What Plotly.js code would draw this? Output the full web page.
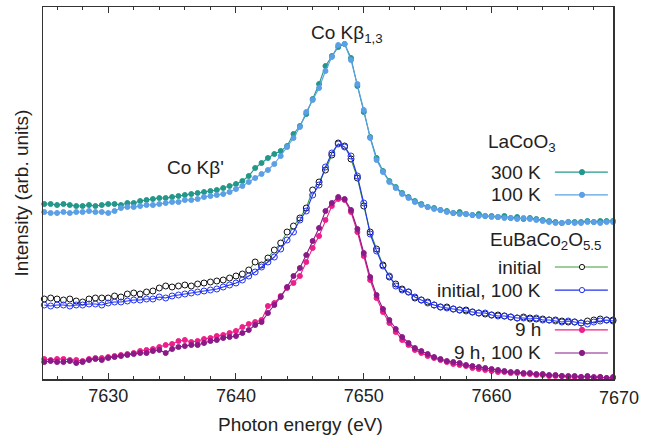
<!DOCTYPE html>
<html><head><meta charset="utf-8">
<script src="https://cdn.plot.ly/plotly-3.0.1.min.js"></script>
<style>body{margin:0;background:#fff}#chart{width:651px;height:437px}</style>
</head><body><div id="chart"></div>
<script>
const energy = [7625.0,7625.5,7626.0,7626.5,7627.0,7627.5,7628.0,7628.5,7629.0,7629.5,
 7630.0,7630.5,7631.0,7631.5,7632.0,7632.5,7633.0,7633.5,7634.0,7634.5,
 7635.0,7635.5,7636.0,7636.5,7637.0,7637.5,7638.0,7638.5,7639.0,7639.5,
 7640.0,7640.5,7641.0,7641.5,7642.0,7642.5,7643.0,7643.5,7644.0,7644.5,
 7645.0,7645.5,7646.0,7646.5,7647.0,7647.5,7648.0,7648.5,7649.0,7649.5,
 7650.0,7650.5,7651.0,7651.5,7652.0,7652.5,7653.0,7653.5,7654.0,7654.5,
 7655.0,7655.5,7656.0,7656.5,7657.0,7657.5,7658.0,7658.5,7659.0,7659.5,
 7660.0,7660.5,7661.0,7661.5,7662.0,7662.5,7663.0,7663.5,7664.0,7664.5,
 7665.0,7665.5,7666.0,7666.5,7667.0,7667.5,7668.0,7668.5,7669.0,7669.5];

// LaCoO3
const la300K = [176,176,175,176,175,174,174,175,174,175,
 176,176,175,177,177,179,180,181,182,182,
 183,184,185,186,187,188,189,190,192,194,
 196,199,204,212,217,222,226,229,234,246,
 254,266,281,296,314,324,333,336,322,294,
 268,243,222,209,199,193,187,183,179,176,
 173,172,170,169,167,168,166,165,166,164,
 164,163,164,162,163,161,162,161,160,159,
 158,157,158,158,158,159,158,159,159,159];
const la100K = [168,167,167,168,167,168,168,169,168,168,
 167,169,172,173,173,174,175,175,176,177,
 178,178,180,180,181,183,184,185,186,188,
 191,194,198,202,206,210,216,224,233,242,
 253,268,280,292,309,323,335,336,320,296,
 270,242,220,208,198,192,186,182,178,175,
 173,171,170,168,167,166,166,165,164,164,
 163,163,162,162,161,162,161,160,159,158,
 157,157,158,157,157,158,158,157,158,158];
// EuBaCo2O5.5
const euInitial = [81,82,81,80,81,79,78,81,82,82,
 82,84,83,86,87,86,88,89,92,94,
 93,94,95,94,96,97,98,99,100,102,
 104,106,110,118,115,122,130,137,148,154,
 162,172,190,198,210,225,237,234,221,202,
 174,148,131,115,103,96,91,88,82,80,
 78,75,73,73,71,70,70,68,67,66,
 65,65,64,63,62,63,62,61,61,60,
 60,59,58,58,57,59,60,61,60,60];
const euInitial100K = [75,74,75,75,74,75,75,76,76,75,
 77,78,78,79,80,80,81,81,83,82,
 84,85,86,87,88,89,90,91,93,95,
 97,100,104,108,113,118,123,131,140,148,
 160,169,185,195,213,227,236,233,224,204,
 177,146,129,114,104,94,90,88,83,80,
 77,75,73,72,71,70,69,68,67,67,
 65,64,64,63,62,62,61,62,60,60,
 59,58,59,58,57,56,58,59,60,59];
const eu9h = [21,20,21,21,20,20,19,21,22,22,
 23,24,25,26,27,29,30,31,33,35,
 36,39,40,38,39,41,42,44,45,47,
 49,53,56,58,60,74,77,84,92,97,
 104,118,132,144,160,174,181,180,168,148,
 124,100,82,68,57,48,40,35,30,27,
 24,22,20,18,16,15,14,12,11,10,
 9,8,8,7,7,6,6,5,5,4,
 4,4,3,3,3,3,2,3,2,2];
const eu9h100K = [18,19,18,18,19,17,18,20,21,20,
 22,23,24,25,26,27,27,29,30,27,
 31,33,34,35,35,37,39,40,42,43,
 44,47,50,55,58,67,75,83,93,104,
 112,125,139,152,169,177,183,181,170,151,
 127,103,85,71,60,51,43,37,32,29,
 26,23,21,19,18,17,15,14,13,12,
 11,10,9,8,8,7,7,6,6,5,
 5,4,4,4,3,4,3,3,2,3];

const xRange = [7624.9, 7669.5];
const xTicks = [7630, 7640, 7650, 7660];
const xTickBeyond = 7670;   // label drawn just past the frame, as in the original

const FONT = 'Liberation Sans, Arial, Helvetica, sans-serif';
const C = {
  la300: '#23988a', la100: '#5b9fe6',
  initLine: '#3a9e3a', initMark: '#111111',
  init100: '#2233ee',
  h9: '#ee1f8a', h9100: '#8a1a88'
};

function tr(name, y, lineColor, markColor, symbol, size, fill) {
  return {
    type: 'scatter', mode: 'lines+markers', name: name,
    x: energy, y: y, cliponaxis: false, showlegend: false,
    line: {color: lineColor, width: 1.1},
    marker: {color: fill || markColor, symbol: symbol, size: size, line: {width: 1, color: markColor}}
  };
}

const data = [
  tr('LaCoO3 300 K', la300K, C.la300, C.la300, 'circle', 5),
  tr('LaCoO3 100 K', la100K, C.la100, C.la100, 'circle', 5),
  tr('initial', euInitial, C.initLine, C.initMark, 'circle', 6, '#ffffff'),
  tr('initial, 100 K', euInitial100K, C.init100, C.init100, 'circle-open', 6),
  tr('9 h', eu9h, C.h9, C.h9, 'circle', 5),
  tr('9 h, 100 K', eu9h100K, C.h9100, C.h9100, 'circle', 5)
];

// legend (text left, sample on the right), built in paper coordinates
const legendRows = [
  {label: '300 K', y: 0.556, line: C.la300, mark: C.la300, open: false},
  {label: '100 K', y: 0.495, line: C.la100, mark: C.la100, open: false},
  {label: 'initial', y: 0.301, line: C.initLine, mark: C.initMark, open: true},
  {label: 'initial, 100 K', y: 0.239, line: C.init100, mark: C.init100, open: true},
  {label: '9 h', y: 0.132, line: C.h9, mark: C.h9, open: false},
  {label: '9 h, 100 K', y: 0.070, line: C.h9100, mark: C.h9100, open: false}
];
const beyondPaperX = (xTickBeyond - xRange[0]) / (xRange[1] - xRange[0]);
const annotations = [
  {text: 'Co Kβ<sub>1,3</sub>', x: 7648.7, y: 346, xref: 'x', yref: 'y', yanchor: 'middle', showarrow: false, font: {size: 19}},
  {text: "Co Kβ'", x: 7636.8, y: 213, xref: 'x', yref: 'y', yanchor: 'middle', showarrow: false, font: {size: 19}},
  {text: 'LaCoO<sub>3</sub>', x: 0.778, y: 0.635, xref: 'paper', yref: 'paper', xanchor: 'left', yanchor: 'middle', showarrow: false, font: {size: 19}},
  {text: 'EuBaCo<sub>2</sub>O<sub>5.5</sub>', x: 0.780, y: 0.372, xref: 'paper', yref: 'paper', xanchor: 'left', yanchor: 'middle', showarrow: false, font: {size: 19}},
  {text: String(xTickBeyond), x: beyondPaperX, y: -0.051, xref: 'paper', yref: 'paper', xanchor: 'center', yanchor: 'middle', showarrow: false, font: {size: 18}},
  {text: 'Photon energy (eV)', x: 0.4526, y: -0.121, xref: 'paper', yref: 'paper', xanchor: 'center', yanchor: 'middle', showarrow: false, font: {size: 19}}
];
const shapes = [];
legendRows.forEach(r => {
  annotations.push({text: r.label, x: 0.877, y: r.y, xref: 'paper', yref: 'paper', xanchor: 'right', yanchor: 'middle',
    showarrow: false, font: {size: 19}});
  shapes.push({type: 'line', xref: 'paper', yref: 'paper', x0: 0.898, x1: 0.991, y0: r.y, y1: r.y,
    line: {color: r.line, width: 1.1}});
  shapes.push({type: 'circle', xref: 'paper', yref: 'paper', xsizemode: 'pixel', ysizemode: 'pixel',
    xanchor: 0.9456, yanchor: r.y, x0: -2.6, x1: 2.6, y0: -2.6, y1: 2.6,
    fillcolor: r.open ? '#ffffff' : r.mark, line: {color: r.mark, width: 1}});
});

const layout = {
  width: 651, height: 437,
  margin: {l: 43, r: 38, t: 7, b: 58},
  paper_bgcolor: '#ffffff', plot_bgcolor: '#ffffff',
  font: {family: FONT, size: 18, color: '#222222'},
  showlegend: false,
  xaxis: {
    range: xRange, tickvals: xTicks, ticktext: xTicks.map(String),
    ticks: 'inside', ticklen: 6, tickwidth: 1, tickcolor: '#333',
    minor: {dtick: 2, tick0: 7620, ticks: 'inside', ticklen: 3, tickcolor: '#333'},
    showline: true, linecolor: '#333', linewidth: 1.5, mirror: 'allticks',
    showgrid: false, zeroline: false,
    tickfont: {size: 18}
  },
  yaxis: {
    range: [1, 373], showticklabels: false, ticks: '',
    showline: true, linecolor: '#333', linewidth: 1.5, mirror: true,
    showgrid: false, zeroline: false,
    title: {text: 'Intensity (arb. units)', font: {size: 19}, standoff: 8}
  },
  annotations: annotations,
  shapes: shapes
};

Plotly.newPlot('chart', data, layout, {displayModeBar: false, staticPlot: true});
</script>
</body></html>
